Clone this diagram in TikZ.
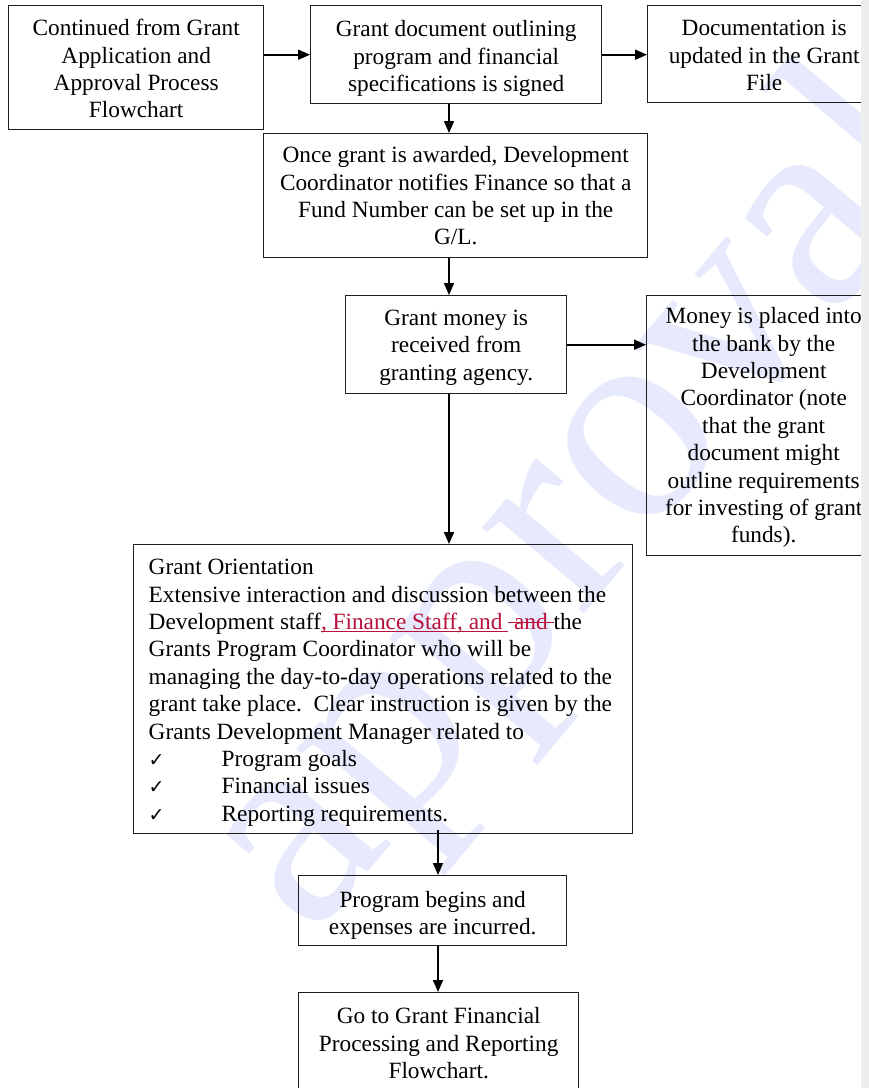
\documentclass[tikz,border=0pt]{standalone}
\usepackage{fontspec}
\setmainfont{Liberation Serif}
\newfontfamily\symfont{DejaVu Sans}
\usetikzlibrary{arrows.meta}

\definecolor{edit}{RGB}{185,16,58}
\definecolor{wmark}{RGB}{230,234,252}
\definecolor{sidebar}{RGB}{238,238,238}
\definecolor{rule}{RGB}{30,30,30}

% fixed-size text cell: width, height, first baseline, content
\newcommand\cellbody[4]{\parbox[c][#2][t]{#1}{\centering\rule{0pt}{#3}#4\par}}
% tracked-change marks: inserted (underlined) and deleted (struck) text
\newcommand\ins[1]{{\color{edit}\setbox0=\hbox{#1}\rlap{\rule[-2.8pt]{\wd0}{1.2pt}}\box0}}
\newcommand\del[1]{{\color{edit}\setbox0=\hbox{#1}\rlap{\rule[6.8pt]{\wd0}{1.2pt}}\box0}}
\newcommand\chk{\makebox[73pt][l]{\symfont\fontsize{19}{19}\selectfont ✓}}

\begin{document}
\begin{tikzpicture}[x=1pt,y=1pt,
  flow/.style={draw=rule, line width=1.4pt, inner sep=0pt,
    font=\fontsize{23.3}{27.4}\selectfont},
  link/.style={line width=1.8pt, -{Triangle[length=12pt,width=10pt]}},
  stamp/.style={text=wmark, inner sep=0pt, font=\fontsize{290}{290}\selectfont}]
\useasboundingbox (0,0) rectangle (869,-1088);
\fill[white] (0,0) rectangle (869,-1088);
\clip (0,0) rectangle (869,-1088);

% watermark behind the chart
\node[stamp, rotate=50] (wm) at (584,-506) {approval};

% process boxes
\node[flow, anchor=north west] (b1) at (8,-5)
  {\cellbody{255pt}{124pt}{30pt}{Continued from Grant\\Application and\\Approval Process\\Flowchart}};
\node[flow, anchor=north west] (b2) at (310,-5)
  {\cellbody{291pt}{98pt}{31pt}{Grant document outlining\\program and financial\\specifications is signed}};
\node[flow, anchor=north west] (b3) at (647,-5)
  {\cellbody{233pt}{97pt}{30pt}{Documentation is\\updated in the Grant\\File}};
\node[flow, anchor=north west] (b4) at (263,-133)
  {\cellbody{384pt}{124pt}{29pt}{Once grant is awarded, Development\\Coordinator notifies Finance so that a\\Fund Number can be set up in the\\G/L.}};
\node[flow, anchor=north west] (b5) at (345,-295)
  {\cellbody{221pt}{98pt}{29.5pt}{Grant money is\\received from\\granting agency.}};
\node[flow, anchor=north west] (b6) at (646,-295)
  {\cellbody{234pt}{260pt}{28pt}{Money is placed into\\the bank by the\\Development\\Coordinator (note\\that the grant\\document might\\outline requirements\\for investing of grant\\funds).}};
\node[flow, anchor=north west] (b7) at (133,-544)
  {\parbox[c][289pt][t]{499pt}{\raggedright\leftskip=15pt\relax\rule{0pt}{30pt}Grant Orientation\\
   Extensive interaction and discussion between the\\
   Development staff\ins{, Finance Staff, and\ }\del{\ and\ }the\\
   Grants Program Coordinator who will be\\
   managing the day-to-day operations related to the\\
   grant take place.\ \ Clear instruction is given by the\\
   Grants Development Manager related to\\
   \chk Program goals\\
   \chk Financial issues\\
   \chk Reporting requirements.\par}};
\node[flow, anchor=north west] (b8) at (298,-875)
  {\cellbody{268pt}{70pt}{31.5pt}{Program begins and\\expenses are incurred.}};
\node[flow, anchor=north west] (b9) at (298,-992)
  {\cellbody{280pt}{115pt}{31pt}{Go to Grant Financial\\Processing and Reporting\\Flowchart.}};

% connectors
\coordinate (s1) at (449,0);
\coordinate (s2) at (438,0);
\draw[link] (b1.east |- b2.west) -- (b2.west);
\draw[link] (b2.east) -- (b3.west |- b2.east);
\draw[link] (b2.south -| s1) -- (b4.north -| s1);
\draw[link] (b4.south -| s1) -- (b5.north -| s1);
\draw[link] (b5.east) -- (b6.west |- b5.east);
\draw[link] (b5.south -| s1) -- (b7.north -| s1);
\draw[link] ([yshift=4pt]b7.south -| s2) -- (b8.north -| s2);
\draw[link] (b8.south -| s2) -- (b9.north -| s2);

% page margin strip
\fill[sidebar] (861,0) rectangle (869,-1088);
\end{tikzpicture}
\end{document}
